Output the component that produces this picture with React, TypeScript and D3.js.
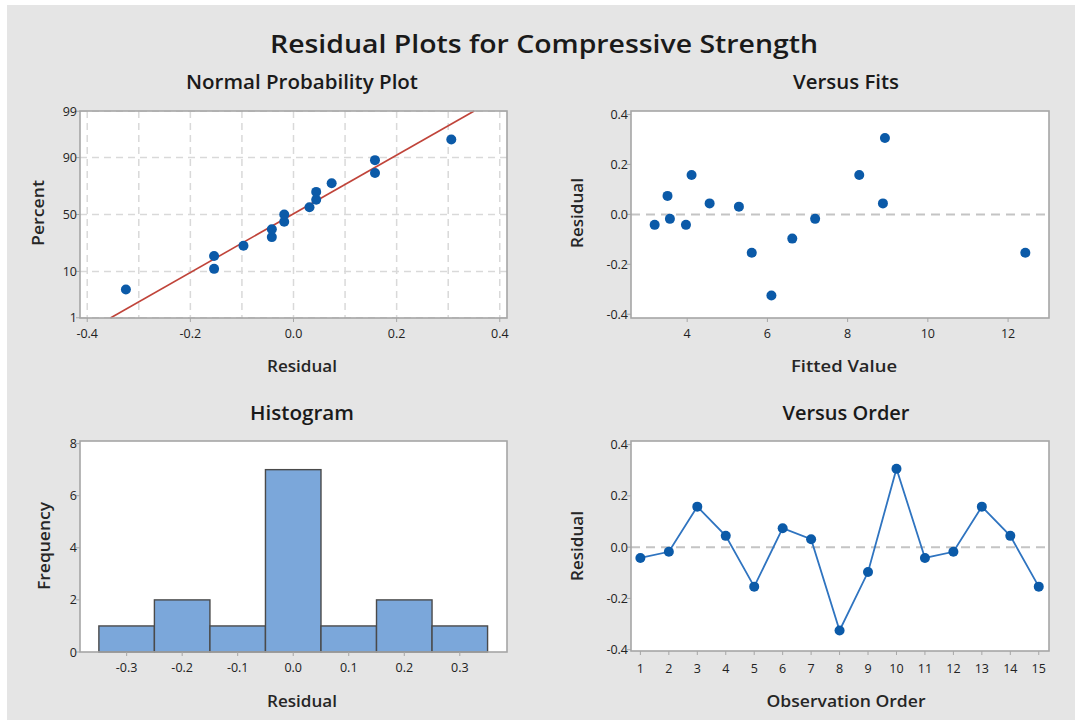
import React from "react";
import * as d3 from "d3";

// Residuals by observation order
const residuals = [-0.042, -0.018, 0.158, 0.044, -0.154, 0.074, 0.031, -0.325, -0.097, 0.306, -0.042, -0.018, 0.158, 0.044, -0.154];
// Fitted values by observation order
const fitted = [3.19, 3.57, 4.11, 4.56, 5.61, 3.51, 5.29, 6.10, 6.62, 8.93, 3.97, 7.19, 8.29, 8.88, 12.43];
const observationOrder = d3.range(1, residuals.length + 1);

const probTicks = [1, 10, 50, 90, 99];
const probGridX = [-0.4, -0.3, -0.2, -0.1, 0, 0.1, 0.2, 0.3, 0.4];
const probXTicks = [-0.4, -0.2, 0, 0.2, 0.4];
const residTicks = [-0.4, -0.2, 0, 0.2, 0.4];
const fitTicks = [4, 6, 8, 10, 12];
const histXTicks = [-0.3, -0.2, -0.1, 0, 0.1, 0.2, 0.3];
const histYTicks = [0, 2, 4, 6, 8];
const histThresholds = [-0.35, -0.25, -0.15, -0.05, 0.05, 0.15, 0.25, 0.35];

const FONT = "'Open Sans', 'Noto Sans', sans-serif";
const TXT = "#1a1a1a";
const FRAME = "#a6a6a6";
const BLUE = "#0b5aa8";

// inverse normal CDF (Acklam)
function qnorm(p: number): number {
  const a = [-3.969683028665376e1, 2.209460984245205e2, -2.759285104469687e2, 1.38357751867269e2, -3.066479806614716e1, 2.506628277459239];
  const b = [-5.447609879822406e1, 1.615858368580409e2, -1.556989798598866e2, 6.680131188771972e1, -1.328068155288572e1];
  const c = [-7.784894002430293e-3, -3.223964580411365e-1, -2.400758277161838, -2.549732539343734, 4.374664141464968, 2.938163982698783];
  const d = [7.784695709041462e-3, 3.224671290700398e-1, 2.445134137142996, 3.754408661907416];
  const pl = 0.02425;
  let q: number, r: number;
  if (p < pl) {
    q = Math.sqrt(-2 * Math.log(p));
    return (((((c[0] * q + c[1]) * q + c[2]) * q + c[3]) * q + c[4]) * q + c[5]) / ((((d[0] * q + d[1]) * q + d[2]) * q + d[3]) * q + 1);
  } else if (p <= 1 - pl) {
    q = p - 0.5;
    r = q * q;
    return ((((((a[0] * r + a[1]) * r + a[2]) * r + a[3]) * r + a[4]) * r + a[5]) * q) / (((((b[0] * r + b[1]) * r + b[2]) * r + b[3]) * r + b[4]) * r + 1);
  }
  q = Math.sqrt(-2 * Math.log(1 - p));
  return -(((((c[0] * q + c[1]) * q + c[2]) * q + c[3]) * q + c[4]) * q + c[5]) / ((((d[0] * q + d[1]) * q + d[2]) * q + d[3]) * q + 1);
}

const fmt1 = (v: number) => (Math.abs(v) < 1e-9 ? "0.0" : v.toFixed(1));

function Frame({ x0, x1, y0, y1 }: { x0: number; x1: number; y0: number; y1: number }) {
  return <rect x={x0} y={y0} width={x1 - x0} height={y1 - y0} fill="none" stroke={FRAME} strokeWidth={1.6} />;
}

function XTicks({ scale, ticks, y, fmt, dy = 19 }: any) {
  return (
    <g>
      {ticks.map((t: number) => (
        <g key={t}>
          <line x1={scale(t)} x2={scale(t)} y1={y} y2={y + 4} stroke={FRAME} strokeWidth={1} />
          <text x={scale(t)} y={y + dy} textAnchor="middle" fontSize={12.5} fill="#222" fontFamily={FONT}>{fmt(t)}</text>
        </g>
      ))}
    </g>
  );
}

function YTicks({ scale, ticks, x, fmt, vals }: any) {
  return (
    <g>
      {ticks.map((t: number, i: number) => {
        const yy = scale(vals ? vals[i] : t);
        return (
          <g key={t}>
            <line x1={x - 4} x2={x} y1={yy} y2={yy} stroke={FRAME} strokeWidth={1} />
            <text x={x - 3} y={yy + 4.5} textAnchor="end" fontSize={12.5} fill="#222" fontFamily={FONT}>{fmt(t)}</text>
          </g>
        );
      })}
    </g>
  );
}

export default function App() {
  const n = residuals.length;
  const mean = d3.mean(residuals) as number;
  const sd = d3.deviation(residuals) as number;

  // ---- Panel 1: normal probability plot
  const p1 = { x0: 80, x1: 507, y0: 111, y1: 318 };
  const x1s = d3.scaleLinear().domain([-0.414, 0.414]).range([p1.x0, p1.x1]);
  const zLo = qnorm(0.01), zHi = qnorm(0.99);
  const y1s = d3.scaleLinear().domain([zLo - 0.005, zHi + 0.005]).range([p1.y1, p1.y0]);
  const sorted = residuals.slice().sort(d3.ascending);
  const probPts = sorted.map((r, i) => ({ r, z: qnorm((i + 1 - 0.3) / (n + 0.4)) }));
  const lineZ = [zLo - 0.005, zHi + 0.005];

  // ---- Panel 2: versus fits
  const p2 = { x0: 631, x1: 1049, y0: 111, y1: 318 };
  const x2s = d3.scaleLinear().domain([2.6, 13.02]).range([p2.x0, p2.x1]);
  const y2s = d3.scaleLinear().domain([-0.415, 0.414]).range([p2.y1, p2.y0]);

  // ---- Panel 3: histogram
  const p3 = { x0: 80, x1: 507, y0: 441, y1: 652 };
  const x3s = d3.scaleLinear().domain([-0.384, 0.385]).range([p3.x0, p3.x1]);
  const y3s = d3.scaleLinear().domain([0, 8.1]).range([p3.y1, p3.y0]);
  const bins = d3.bin().domain([-0.35, 0.35]).thresholds(histThresholds.slice(1, -1))(residuals);

  // ---- Panel 4: versus order
  const p4 = { x0: 631, x1: 1049, y0: 441, y1: 651 };
  const x4s = d3.scaleLinear().domain([0.67, 15.36]).range([p4.x0, p4.x1]);
  const y4s = d3.scaleLinear().domain([-0.405, 0.414]).range([p4.y1, p4.y0]);
  const orderLine = d3.line<number>().x((_, i) => x4s(observationOrder[i])).y((d) => y4s(d));

  const sub = (x: number, y: number, t: string, w: number) => (
    <text x={x} y={y} textAnchor="middle" fontSize={19} fontWeight={600} fill={TXT} fontFamily={FONT}
      textLength={w} lengthAdjust="spacingAndGlyphs">{t}</text>
  );
  const axT = (x: number, y: number, t: string, w: number, rot = false) => (
    <text x={x} y={y} textAnchor="middle" fontSize={15.5} fontWeight={600} fill="#262626" fontFamily={FONT}
      textLength={w} lengthAdjust="spacingAndGlyphs"
      transform={rot ? `rotate(-90 ${x} ${y})` : undefined}>{t}</text>
  );

  return (
    <svg width={1075} height={720} style={{ position: "absolute", left: 0, top: 0, background: "#fff" }}>
      <rect x={7} y={5} width={1068} height={715} fill="#e5e5e5" />
      <text x={544} y={53} textAnchor="middle" fontSize={26} fontWeight={600} fill={TXT} fontFamily={FONT}
        textLength={548} lengthAdjust="spacingAndGlyphs">Residual Plots for Compressive Strength</text>

      {/* Panel 1 */}
      {sub(302, 89, "Normal Probability Plot", 232)}
      <rect x={p1.x0} y={p1.y0} width={p1.x1 - p1.x0} height={p1.y1 - p1.y0} fill="#fff" />
      {probGridX.map((g) => (
        <line key={g} x1={x1s(g)} x2={x1s(g)} y1={p1.y0} y2={p1.y1} stroke="#d9d9d9" strokeWidth={1.5} strokeDasharray="7,5" />
      ))}
      {probTicks.map((t) => (
        <line key={t} x1={p1.x0} x2={p1.x1} y1={y1s(qnorm(t / 100))} y2={y1s(qnorm(t / 100))} stroke="#d9d9d9" strokeWidth={1.5} strokeDasharray="7,5" />
      ))}
      <line x1={x1s(mean + sd * lineZ[0])} y1={y1s(lineZ[0])} x2={x1s(mean + sd * lineZ[1])} y2={y1s(lineZ[1])} stroke="#c0443a" strokeWidth={1.6} />
      {probPts.map((d, i) => (
        <circle key={i} cx={x1s(d.r)} cy={y1s(d.z)} r={5} fill={BLUE} />
      ))}
      <Frame {...p1} />
      <XTicks scale={x1s} ticks={probXTicks} y={p1.y1} fmt={fmt1} dy={20} />
      <YTicks scale={y1s} ticks={probTicks} vals={probTicks.map((t) => qnorm(t / 100))} x={p1.x0} fmt={(t: number) => String(t)} />
      {axT(302, 372, "Residual", 70)}
      {axT(44, 213, "Percent", 66, true)}

      {/* Panel 2 */}
      {sub(846, 89, "Versus Fits", 106)}
      <rect x={p2.x0} y={p2.y0} width={p2.x1 - p2.x0} height={p2.y1 - p2.y0} fill="#fff" />
      <line x1={p2.x0} x2={p2.x1} y1={y2s(0)} y2={y2s(0)} stroke="#c4c4c4" strokeWidth={2} strokeDasharray="9,6" />
      {fitted.map((f, i) => (
        <circle key={i} cx={x2s(f)} cy={y2s(residuals[i])} r={5} fill={BLUE} />
      ))}
      <Frame {...p2} />
      <XTicks scale={x2s} ticks={fitTicks} y={p2.y1} fmt={(t: number) => String(t)} dy={20} />
      <YTicks scale={y2s} ticks={residTicks} x={p2.x0} fmt={fmt1} />
      {axT(844, 372, "Fitted Value", 106)}
      {axT(583, 213, "Residual", 70, true)}

      {/* Panel 3 */}
      {sub(302, 420, "Histogram", 104)}
      <rect x={p3.x0} y={p3.y0} width={p3.x1 - p3.x0} height={p3.y1 - p3.y0} fill="#fff" />
      {bins.map((b, i) => (
        <rect key={i} x={x3s(b.x0 as number)} y={y3s(b.length)} width={x3s(b.x1 as number) - x3s(b.x0 as number)}
          height={y3s(0) - y3s(b.length)} fill="#7ba7da" stroke="#4a4a4a" strokeWidth={1.4} />
      ))}
      <Frame {...p3} />
      <XTicks scale={x3s} ticks={histXTicks} y={p3.y1} fmt={fmt1} dy={20} />
      <YTicks scale={y3s} ticks={histYTicks} x={p3.x0} fmt={(t: number) => String(t)} />
      {axT(302, 707, "Residual", 70)}
      {axT(50, 546, "Frequency", 88, true)}

      {/* Panel 4 */}
      {sub(846, 420, "Versus Order", 127)}
      <rect x={p4.x0} y={p4.y0} width={p4.x1 - p4.x0} height={p4.y1 - p4.y0} fill="#fff" />
      <line x1={p4.x0} x2={p4.x1} y1={y4s(0)} y2={y4s(0)} stroke="#c4c4c4" strokeWidth={2} strokeDasharray="9,6" />
      <path d={orderLine(residuals) as string} fill="none" stroke="#2f74c0" strokeWidth={1.8} />
      {residuals.map((r, i) => (
        <circle key={i} cx={x4s(observationOrder[i])} cy={y4s(r)} r={5} fill={BLUE} />
      ))}
      <Frame {...p4} />
      <XTicks scale={x4s} ticks={observationOrder} y={p4.y1} fmt={(t: number) => String(t)} dy={22} />
      <YTicks scale={y4s} ticks={residTicks} x={p4.x0} fmt={fmt1} />
      {axT(846, 707, "Observation Order", 159)}
      {axT(583, 546, "Residual", 70, true)}
    </svg>
  );
}
